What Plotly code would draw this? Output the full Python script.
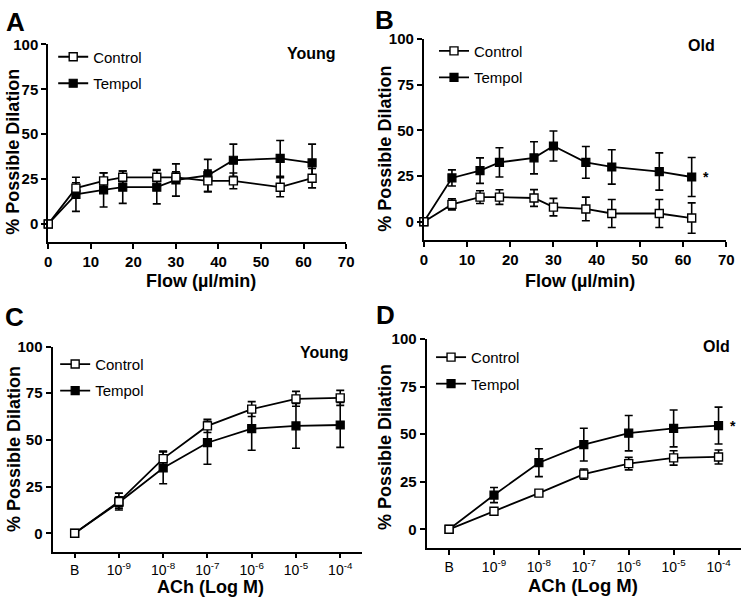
import plotly.graph_objects as go

# ---------------- data ----------------
flow = [0, 6.5, 13, 17.5, 25.5, 30, 37.5, 43.5, 54.5, 62]

ctrl_A = [0, 20, 24, 26, 26, 26, 24, 24, 20.5, 25.5]
ctrl_A_err = [0, 3, 4.4, 3.5, 4.3, 3, 6, 4.4, 5.3, 5.4]
tempol_A = [0, 16.5, 19, 20.5, 20.5, 24.5, 27, 35.5, 36.5, 34]
tempol_A_err = [0, 9.5, 9.5, 9, 9.3, 9, 9, 9, 10, 10.5]

ctrl_B = [0, 9.5, 13.5, 13.5, 13, 8, 7, 4.5, 4.5, 2]
ctrl_B_err = [0, 3, 3.5, 4, 4.6, 4.8, 6.5, 7.7, 7.7, 8.3]
tempol_B = [0, 24, 28, 32.5, 35, 41.5, 32.5, 30, 27.5, 24.5]
tempol_B_err = [0, 4.4, 7, 8, 8.8, 8.2, 8.7, 9.4, 10.2, 10.7]

ach_labels = ["B", "10<sup>-9</sup>", "10<sup>-8</sup>", "10<sup>-7</sup>",
              "10<sup>-6</sup>", "10<sup>-5</sup>", "10<sup>-4</sup>"]

ctrl_C = [0, 17, 40, 57.5, 66.5, 72, 72.5]
ctrl_C_err = [0, 4.5, 4, 3.5, 4, 4, 4]
tempol_C = [0, 16.5, 35, 48.5, 56, 57.5, 58]
tempol_C_err = [0, 3, 8.5, 11.5, 11.5, 12, 12]

ctrl_D = [0, 9.5, 19, 29, 34.5, 37.5, 38]
ctrl_D_err = [0, 1.5, 1.5, 2.7, 3.3, 3.8, 3.7]
tempol_D = [0, 18, 35, 44.5, 50.5, 53, 54.5]
tempol_D_err = [0, 4, 7.3, 8.6, 9.3, 9.7, 9.7]

y_ticks = [0, 25, 50, 75, 100]
flow_ticks = [0, 10, 20, 30, 40, 50, 60, 70]

FONT = "Liberation Sans"
W, H = 749, 597

ach_x = list(range(len(ach_labels)))

fig = go.Figure()


def add_pair(xs, yc, ec, yt, et, xa, ya, leg):
    # Tempol drawn first so Control (open) sits on top
    fig.add_trace(go.Scatter(
        x=xs, y=yt, name="Tempol", mode="lines+markers",
        xaxis=xa, yaxis=ya, legend=leg, legendrank=2, legendgroup=leg + "t",
        line=dict(color="black", width=1.8),
        marker=dict(symbol="square", size=8, color="black",
                    line=dict(color="black", width=1.2)),
        error_y=dict(type="data", array=et, color="black", thickness=1.6, width=4),
        cliponaxis=False))
    fig.add_trace(go.Scatter(
        x=xs, y=yc, name="Control", mode="lines+markers",
        xaxis=xa, yaxis=ya, legend=leg, legendrank=1, legendgroup=leg + "c",
        line=dict(color="black", width=1.8),
        marker=dict(symbol="square", size=8, color="white",
                    line=dict(color="black", width=1.4)),
        error_y=dict(type="data", array=ec, color="black", thickness=1.6, width=4),
        cliponaxis=False))


add_pair(flow, ctrl_A, ctrl_A_err, tempol_A, tempol_A_err, "x", "y", "legend")
add_pair(flow, ctrl_B, ctrl_B_err, tempol_B, tempol_B_err, "x2", "y2", "legend2")
add_pair(ach_x, ctrl_C, ctrl_C_err, tempol_C, tempol_C_err, "x3", "y3", "legend3")
add_pair(ach_x, ctrl_D, ctrl_D_err, tempol_D, tempol_D_err, "x4", "y4", "legend4")


def px_x(p):
    return p / W


def px_y(p):
    return 1 - p / H


axis_common = dict(showline=True, linecolor="black", linewidth=2, ticks="outside",
                   ticklen=5, tickwidth=2, tickcolor="black", showgrid=False,
                   zeroline=False, mirror=False,
                   tickfont=dict(family=FONT, size=15, color="black", weight="bold"))

# panel geometry (pixels)
dom = {
    "A": dict(x=(45, 347.7), y=(36, 236.5)),
    "B": dict(x=(426.7, 734), y=(30.7, 234.5)),
    "C": dict(x=(49.3, 364.2), y=(342.7, 551.3)),
    "D": dict(x=(429.5, 749), y=(335, 547.6)),
}

layout_axes = {}
for i, key in enumerate(["A", "B", "C", "D"]):
    n = "" if i == 0 else str(i + 1)
    d = dom[key]
    xa = dict(axis_common, domain=[px_x(d["x"][0]), px_x(d["x"][1])],
              anchor="y" + n)
    if key in ("A", "B"):
        xa.update(range=[0, 70], tickvals=flow_ticks)
    else:
        xa.update(range=[-0.5, 6.5], tickvals=ach_x, ticktext=ach_labels,
                  tickfont=dict(family=FONT, size=14, color="black"))
    if key == "C":
        xa.update(ticklen=4)
    ya = dict(axis_common, domain=[px_y(d["y"][1]), px_y(d["y"][0])],
              anchor="x" + n, range=[-10, 100], tickvals=y_ticks)
    layout_axes["xaxis" + n] = xa
    layout_axes["yaxis" + n] = ya

fig.update_layout(**layout_axes)

leg_common = dict(xanchor="left", yanchor="top", bgcolor="rgba(0,0,0,0)",
                  font=dict(family=FONT, size=15, color="black"),
                  itemwidth=30, tracegroupgap=4, traceorder="grouped")
fig.update_layout(
    legend=dict(leg_common, x=px_x(50), y=px_y(32)),
    legend2=dict(leg_common, x=px_x(437), y=px_y(26)),
    legend3=dict(leg_common, x=px_x(52), y=px_y(344)),
    legend4=dict(leg_common, x=px_x(434), y=px_y(337)),
)

ann = []
# panel letters
for txt, cx, cy in [("A", 12, 13), ("B", 387, 11), ("C", 11, 313), ("D", 387.5, 311)]:
    ann.append(dict(text=txt, x=px_x(cx), y=px_y(cy), xref="paper", yref="paper",
                    showarrow=False, xanchor="center", yanchor="middle",
                    font=dict(family=FONT, size=26, color="black", weight="bold")))
# group labels
for txt, cx, cy in [("Young", 313, 45), ("Old", 709, 37), ("Young", 326, 349), ("Old", 724, 343)]:
    ann.append(dict(text=txt, x=px_x(cx), y=px_y(cy), xref="paper", yref="paper",
                    showarrow=False, xanchor="center", yanchor="middle",
                    font=dict(family=FONT, size=16, color="black", weight="bold")))
# y titles
for cx, cy in [(9, 145), (387, 142), (10, 447), (387, 445)]:
    ann.append(dict(text="% Possible Dilation", x=px_x(cx), y=px_y(cy), xref="paper",
                    yref="paper", showarrow=False, textangle=-90,
                    xanchor="center", yanchor="middle",
                    font=dict(family=FONT, size=18, color="black", weight="bold")))
# x titles
for txt, cx, cy, fs in [("Flow (µl/min)", 200, 276, 18), ("Flow (µl/min)", 585, 276, 18),
                        ("ACh (Log M)", 210, 587, 18), ("ACh (Log M)", 588, 585, 18.5)]:
    ann.append(dict(text=txt, x=px_x(cx), y=px_y(cy), xref="paper", yref="paper",
                    showarrow=False, xanchor="center", yanchor="middle",
                    font=dict(family=FONT, size=fs, color="black", weight="bold")))
# significance asterisks next to last Tempol point
ann.append(dict(text="*", x=flow[-1] + 3.2, y=tempol_B[-1], xref="x2", yref="y2",
                showarrow=False, xanchor="center", yanchor="middle",
                font=dict(family=FONT, size=14, color="black", weight="bold")))
ann.append(dict(text="*", x=ach_x[-1] + 0.33, y=tempol_D[-1], xref="x4", yref="y4",
                showarrow=False, xanchor="center", yanchor="middle",
                font=dict(family=FONT, size=14, color="black", weight="bold")))

fig.update_layout(
    annotations=ann,
    width=W, height=H,
    margin=dict(l=0, r=0, t=0, b=0),
    paper_bgcolor="white", plot_bgcolor="white",
    font=dict(family=FONT, color="black"),
    showlegend=True,
)

fig.write_html("out.html", config={"displayModeBar": False},
               post_script="document.documentElement.style.margin='0';"
                           "document.body.style.margin='0';"
                           "document.documentElement.style.overflow='hidden';"
                           "document.body.style.overflow='hidden';")
